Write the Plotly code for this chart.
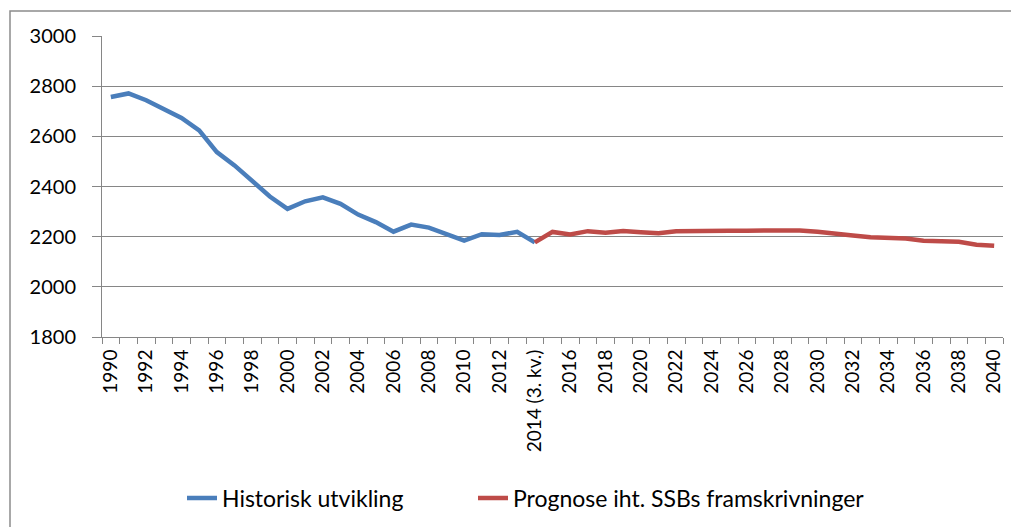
import plotly.graph_objects as go

years = list(range(1990, 2041))
categories = [str(y) if y != 2014 else "2014 (3. kv.)" for y in years]
tick_labels = [c if (y % 2 == 0) else "" for y, c in zip(years, categories)]

hist_years = list(range(1990, 2015))
hist_values = [2757, 2771, 2744, 2708, 2673, 2624, 2537, 2484, 2420, 2360, 2311,
               2341, 2357, 2331, 2288, 2258, 2220, 2248, 2236, 2208, 2184,
               2210, 2207, 2219, 2177]

prog_years = list(range(2014, 2041))
prog_values = [2177, 2219, 2209, 2222, 2216, 2223, 2218, 2214, 2222, 2223, 2227,
               2224, 2224, 2225, 2225, 2225, 2220, 2211, 2205, 2198, 2197,
               2193, 2184, 2180, 2180, 2168, 2164]

def cat(y):
    return categories[years.index(y)]

fig = go.Figure()
fig.add_trace(go.Scatter(
    x=[cat(y) for y in hist_years], y=hist_values, mode="lines",
    name="Historisk utvikling", legend="legend",
    line=dict(color="#4A7EBB", width=4.5)))
fig.add_trace(go.Scatter(
    x=[cat(y) for y in prog_years], y=prog_values, mode="lines",
    name="Prognose iht. SSBs framskrivninger", legend="legend2",
    line=dict(color="#BE4B48", width=4.5)))

OFF = 8  # page body margin
W, H = 1019 - OFF, 527 - OFF
# plot area in page pixels: x 102..1003, y 36..337
L, T = 102 - OFF, 36 - OFF
R = W - (1003 - OFF)
B = H - (337 - OFF)
pw, ph = W - L - R, H - T - B

def px(x):
    return (x - OFF - L) / pw

def py(y):
    return (H - B - (y - OFF)) / ph

legend_font = dict(size=23, family="Lato, sans-serif", color="#000000")

fig.update_layout(
    width=W, height=H,
    margin=dict(l=L, r=R, t=T, b=B, autoexpand=False),
    paper_bgcolor="white", plot_bgcolor="white",
    font=dict(family="Lato, Noto Sans, sans-serif", color="#000000"),
    showlegend=True,
    legend=dict(orientation="h", x=px(182), y=py(498), xanchor="left", yanchor="middle",
                font=legend_font, itemwidth=30, bgcolor="rgba(0,0,0,0)"),
    legend2=dict(orientation="h", x=px(473), y=py(498), xanchor="left", yanchor="middle",
                 font=legend_font, itemwidth=30, bgcolor="rgba(0,0,0,0)"),
    xaxis=dict(type="category", categoryorder="array", categoryarray=categories,
               range=[-0.5, len(categories) - 0.5],
               tickmode="array", tickvals=categories, ticktext=tick_labels,
               tickson="boundaries", ticks="outside", ticklen=6, tickcolor="#868686",
               tickangle=-90, tickfont=dict(size=19, family="Lato, sans-serif"),
               showline=True, linecolor="#868686", linewidth=1,
               showgrid=False, zeroline=False, ticklabelstandoff=4),
    yaxis=dict(range=[1800, 3000], dtick=200, tick0=1800,
               ticks="outside", ticklen=9, tickcolor="#868686",
               tickfont=dict(size=20, family="Lato, sans-serif"),
               showline=True, linecolor="#868686", linewidth=1,
               showgrid=True, gridcolor="#868686", gridwidth=1,
               zeroline=False, ticklabelstandoff=12),
    shapes=[dict(type="rect", xref="paper", yref="paper",
                 x0=px(10), x1=px(1060), y0=py(580), y1=py(11),
                 line=dict(color="#8c8c8c", width=1.5), fillcolor="rgba(0,0,0,0)",
                 layer="below")],
)

fig.write_html("out.html")
